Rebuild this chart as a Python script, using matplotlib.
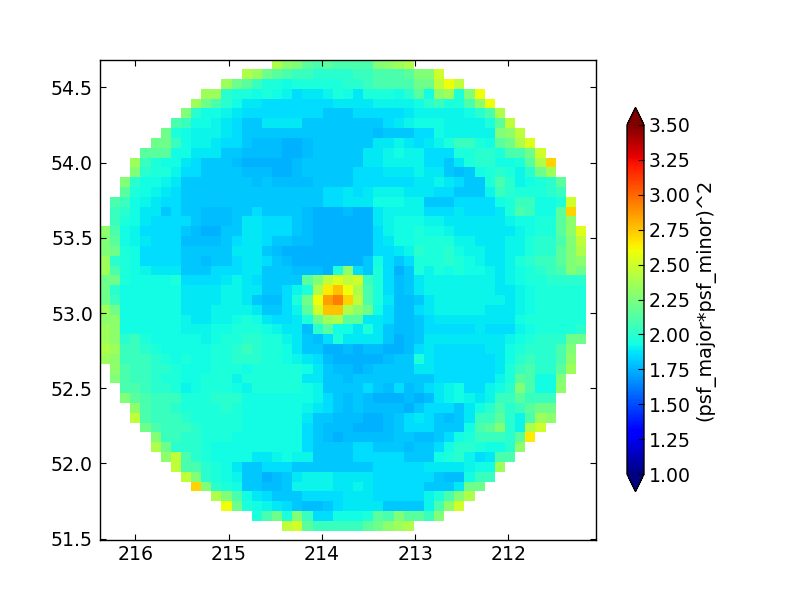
import numpy as np
import matplotlib
matplotlib.use("Agg")
import matplotlib.pyplot as plt

# Map cell values: each letter is one cell.
level_letters = list("ABCDEFGHIJKLMNOPQRSTUVWXYZ")
level_values = [1.75, 1.78, 1.81, 1.85, 1.88, 1.91, 1.93, 1.96, 2.00, 2.05, 2.10, 2.15, 2.21,
                2.26, 2.30, 2.35, 2.40, 2.45, 2.50, 2.55, 2.60, 2.66, 2.71, 2.76, 2.85, 2.94]

# first occupied column of each row, top row first
row_starts = [17, 14, 12, 10, 9, 8, 7, 6, 5, 4, 3, 3, 2, 2, 1, 1, 1, 0, 0, 0, 0, 0, 0, 0,
              0, 0, 0, 0, 0, 0, 0, 1, 1, 2, 2, 3, 3, 4, 5, 5, 6, 7, 8, 9, 11, 12, 15, 18]
row_cells = [
    "QONLKLKK" "KKNOPQ",
    "QPMLKJJIIII" "JJKKKLNNS",
    "PMLJHHGHHHHHI" "IJKKKKMMRUR",
    "PPIHHGHGFDEEFHG" "EHHHGILGOPHNU",
    "PMKIGEEDDDDDDDEE" "EEFFFFGIJHHKOU",
    "NIGGFEDDDDDDDDCCC" "DDDDDEFFFFFGIKQ",
    "KJGGFEDCCEEEECCCCC" "CCCDEFGGGFFFFHLR",
    "MHGFFFEDCCCCCCCCCCC" "CCBCCCDDGFFFFFNOR",
    "MMJGFFEDDCBBBAABCCCC" "CCEEFEDEFHJJHGLMQT",
    "LLLGGEEECCBBBBAABCCCC" "CEEFGFFDDDHHIIHKKMS",
    "PJHGGEDCCCBAAAAABCCCCC" "CEEFFFFDDCEHIIGGHLQW",
    "NIHHFDDCCCCBBBAABCCCCC" "DDDEEEFEECBCGHIHFIMP",
    "NIGGFECCCCCCCBCBBBBCCCC" "DDDDDDEEFEDCCHKIFGHIL",
    "LHGFEDCCCCCCCCCCCCCCDDE" "DEFFFEEEDDCCCFJIHHHIJ",
    "KJGFEDDCCCCCCCCCCCCCCDDE" "EEGGGFFCCCDDDDGHJJGGHS",
    "JIGEECDCCBBBCCDCCCCBAAAB" "AAEFFFFDDDEDDDEHKJGGLW",
    "JHGEDDDDCBBBCEEDDDCBAAAA" "AAEFGGGFFEEEEEEFGGHHLO",
    "OKGFDDDDCBAACCEEDDDCBAAAA" "AADFGGHGGFEEEEEEFGHHLOT",
    "NLGFEDDDBBBBCDEEDCCBBAAAA" "AADEGGHHHHFFEEEFFHIIKNR",
    "NMHGDDDDCCCCCEEECBAAAAAAA" "AADDEFIHHIGFFEEFFHIILNQ",
    "PIHGDDDDCCBCCDEEDCBAAAAAA" "ACGDCDHHHIHGFEEFHIJJLNO",
    "PKHGFEEECCCDDDEECCCBBBAHO" "DCHDACHFHGHGGFEFGHIJKNM",
    "MMHGGGGHDDDDEFEDCCCCLNRTR" "SJHDBCEFFFFFFFEFGHHIIII",
    "MIGGGGGGEEEEFFEECCDFHQVXU" "QKHDBCEFFFFFFFEEFGHHHHH",
    "MJGGGGGGEEEEFFECBBDHMUYZW" "RKHEBBCEFFFFFFFEFGHHHHH",
    "PMGGGGGGEEEFFFFECCDFLSXXQ" "OMGDBBDEFFFFFEEEFGHHHHH",
    "OOGGGGGGFEEFFGHGEDDEHMPQL" "LEEDBBCDEEEEEEEEGHHHHHH",
    "POGGGGGGFFFGGHHHGFEEBILGG" "EHECBBCDDDDDEDDDFGHHHHI",
    "POIJHGGGGGFGHHIIHHFECBDHE" "EEECABCEEEEEEEEFGHIIIMM",
    "QPJJIHGGGGGHHIJIHHGECCAAB" "ABBAABDEDDDDDEEGHIIIKN",
    "POJJJIHGHGGHHIIIHHGFEDBAA" "AAABCCHEDDDDDDEGIJIIKO",
    "OKJJIIHGGGHHHGHHHHHGECBB" "ABCCCCEEDDDDDDEHJKIILP",
    "NKJJIHHGGHHHFHHHHHHEECCB" "CCCCCCCCDDDDDDFHLKGGN",
    "KKJIIHFGHHHGFHHHHHGFCCC" "CDCBDBCDEFGDDFGINKGGO",
    "NLKJJJHHHIIIGGGGGGGFDCB" "CBAAABABEFGFEFJJLJJJ",
    "OKJJIHHHHIHGGGGGGFEDCB" "CBBBBACDDDCEGIKIJLMM",
    "RKJJJIHHHHHGGGGGGECCBB" "BAABCDEDCBCEJJLIFKPO",
    "MKJJJIHHHHGGGGGGDCBBB" "AAABCDDDCCCGKLNIFQS",
    "NJJIIHHHGGGGGGGDCBAB" "BBBBCCBBCDGHJJJILV",
    "QMIIIHGGGGGGGGGDCCCC" "DDCCCBCCDGIIHGGIO",
    "ORKIHGGGGEEFGFFCCCC" "DDDDDCCCGHIFDEKK",
    "RKKIHGECCDDDCCCCCC" "CCDDDDDEEEEFGGP",
    "RNIHGFCCABCEFFFEE" "EEDDDDDDCBBGJJ",
    "WNIHGCCBBCFFFFEE" "FEDDDDDCCCEMM",
    "QNKGEDCCCDDDDE" "EEDDDDDFHKNQ",
    "UMHGFEDCBBCDE" "EEECCCCFKOS",
    "HKMHNJDDGG" "GHLKNLLJN",
    "RSLJJJJ" "JLMOPQ",
]

ra_range = (216.38, 211.167)
dec_range = (54.686, 51.553)
xlim = (216.379, 211.06)
ylim = (51.491, 54.682)
xticks = [216, 215, 214, 213, 212]
yticks = [51.5, 52.0, 52.5, 53.0, 53.5, 54.0, 54.5]
cbar_ticks = [1.00, 1.25, 1.50, 1.75, 2.00, 2.25, 2.50, 2.75, 3.00, 3.25, 3.50]
cbar_label = "(psf_major*psf_minor)^2"

lookup = dict(zip(level_letters, level_values))
n = len(row_cells)
grid = np.full((n, n), np.nan)
for r, (start, cells) in enumerate(zip(row_starts, row_cells)):
    grid[r, start:start + len(cells)] = [lookup[c] for c in cells]
grid = np.ma.masked_invalid(grid)

x_edges = np.linspace(ra_range[0], ra_range[1], n + 1)
y_edges = np.linspace(dec_range[0], dec_range[1], n + 1)

plt.rcParams.update({
    "font.family": "DejaVu Sans",
    "font.size": 13.6,
    "xtick.direction": "in", "ytick.direction": "in",
    "xtick.top": True, "ytick.right": True,
    "xtick.major.size": 4, "ytick.major.size": 4,
    "xtick.major.pad": 3.5, "ytick.major.pad": 5,
    "axes.linewidth": 1.0,
})

fig = plt.figure(figsize=(8, 6), dpi=100)
ax = fig.add_axes([100 / 800, 1 - 540 / 600, 496 / 800, 480 / 600])
mesh = ax.pcolormesh(x_edges, y_edges, grid, cmap="jet", vmin=1.0, vmax=3.5,
                     shading="flat", antialiased=False, linewidth=0)
ax.set_xlim(*xlim)
ax.set_ylim(*ylim)
ax.set_xticks(xticks)
ax.set_xticklabels([str(t) for t in xticks])
ax.set_yticks(yticks)
ax.set_yticklabels([f"{t:.1f}" for t in yticks])

cax = fig.add_axes([627 / 800, 1 - 491.5 / 600, 17 / 800, 384 / 600])
cb = fig.colorbar(mesh, cax=cax, extend="both", extendfrac=0.05, ticks=cbar_ticks)
cb.ax.set_yticklabels([f"{t:.2f}" for t in cbar_ticks])
cb.ax.tick_params(direction="in", length=4, right=True, left=False, pad=3.5)
cb.set_label(cbar_label, fontsize=13.9, labelpad=3)

fig.savefig("out.png", dpi=100)
